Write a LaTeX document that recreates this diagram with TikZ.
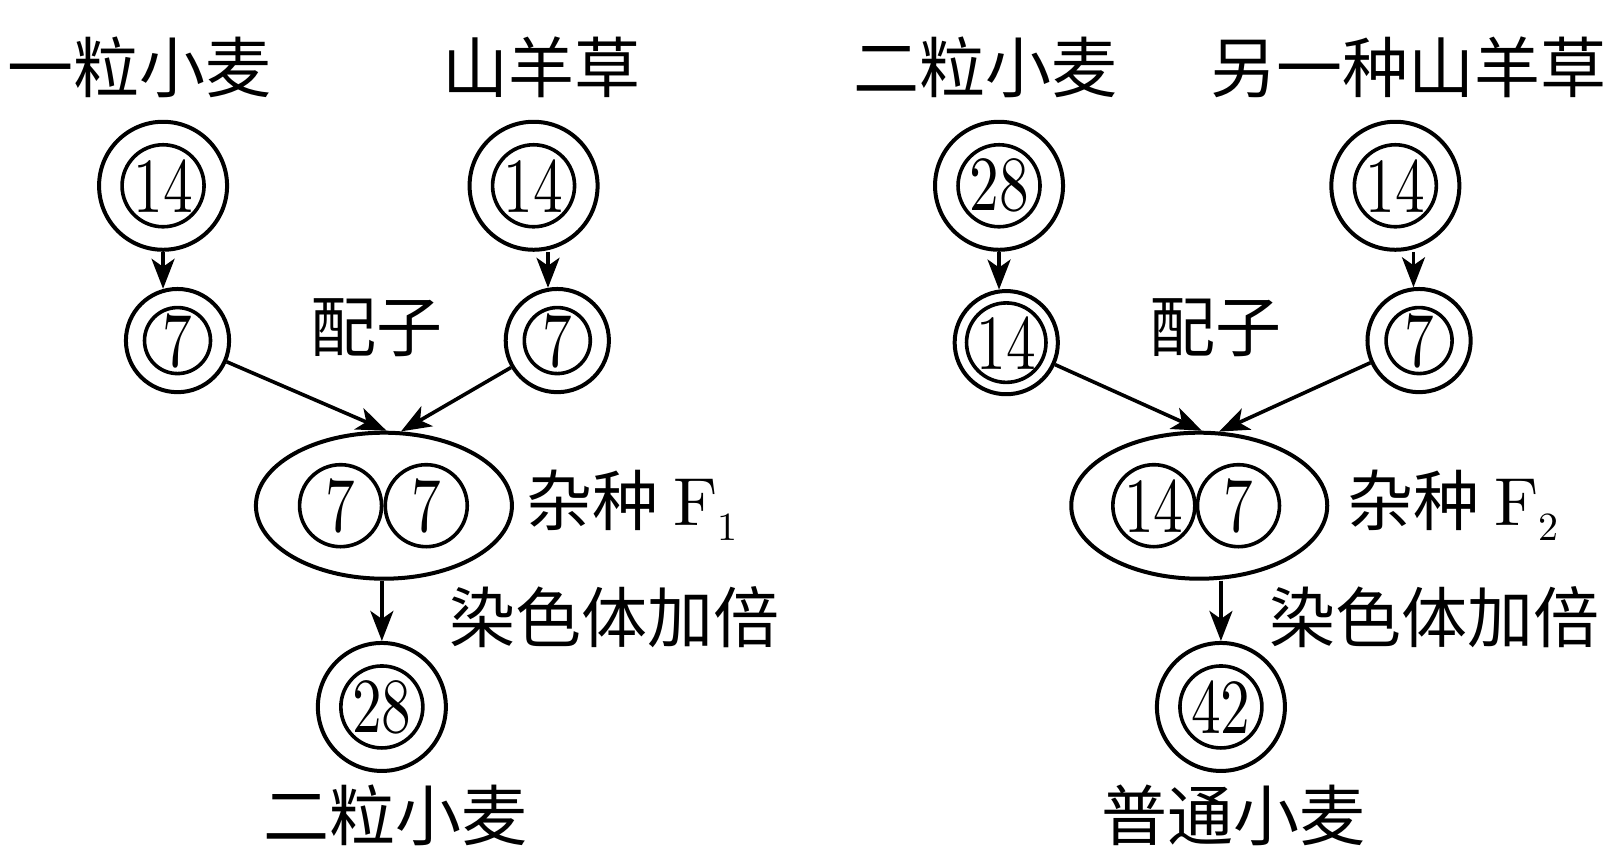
\documentclass[tikz,border=0pt]{standalone}
\usepackage{fontspec}
\usepackage{graphicx}
\newfontfamily\cjk{Noto Sans CJK SC}
\newfontfamily\digitfam{lmroman10-regular.otf}
\usetikzlibrary{arrows.meta,shapes.geometric}
\newcommand\labfont{\fontsize{33}{33}\selectfont\cjk}
\newcommand\digitfont{\fontsize{39}{39}\selectfont\digitfam}
\newcommand\dg[1]{\scalebox{0.76}[1]{#1}}
\newcommand\Fsub[1]{{\digitfam\fontsize{34}{34}\selectfont F\raisebox{-0.22em}{\fontsize{20}{20}\selectfont #1}}}
\begin{document}
\begin{tikzpicture}[x=0.516pt,y=-0.516pt,
  outer/.style={circle,draw,line width=2pt,minimum size=64pt,inner sep=0pt},
  smallc/.style={circle,draw,line width=2pt,minimum size=51.6pt,inner sep=0pt},
  innerc/.style={circle,draw,line width=1.8pt,minimum size=41pt,inner sep=0pt,font=\digitfont},
  innersm/.style={circle,draw,line width=1.8pt,minimum size=33pt,inner sep=0pt,font=\digitfont},
  oval/.style={ellipse,draw,line width=2pt,minimum width=128pt,minimum height=73pt,inner sep=0pt},
  lab/.style={font=\labfont,inner sep=0pt},
  arr/.style={line width=1.8pt,-{Stealth[length=15pt,width=11.5pt,inset=4pt]}}
]
\useasboundingbox (0,0) rectangle (1560,832);

% ---------- left tree ----------
\node[lab] (tA) at (135,65) {一粒小麦};
\node[lab] (tB) at (525,65) {山羊草};
\node[outer] (a1o) at (158,180) {};
\node[innerc] (a1i) at (158,180) {\dg{14}};
\node[outer] (a2o) at (517,180) {};
\node[innerc] (a2i) at (517,180) {\dg{14}};
\node[smallc] (b1o) at (172,330) {};
\node[innersm] (b1i) at (172,330) {\dg{7}};
\node[smallc] (b2o) at (540,330) {};
\node[innersm] (b2i) at (540,330) {\dg{7}};
\node[lab] (pz1) at (365,318) {配子};
\node[oval] (e1) at (372,490) {};
\node[innerc] (e1a) at (330,490) {\dg{7}};
\node[innerc] (e1b) at (413,490) {\dg{7}};
\node[lab,anchor=west] (f1) at (510,490) {杂种\ \Fsub{1}};
\node[lab] (rs1) at (595,598) {染色体加倍};
\node[outer] (c1o) at (370,685) {};
\node[innerc] (c1i) at (370,685) {\dg{28}};
\node[lab] (tC) at (383,790) {二粒小麦};

\draw[arr] (a1o.south) -- (a1o.south |- b1o.105);
\draw[arr] (a2o.south -| b2o.100) -- (b2o.100);
\draw[arr] (b1o) -- (e1.88);
\draw[arr] (b2o) -- (e1.77);
\draw[arr] (e1.south -| c1o.north) -- (c1o.north);

% ---------- right tree ----------
\node[lab] (tD) at (955,65) {二粒小麦};
\node[lab] (tE) at (1365,65) {另一种山羊草};
\node[outer] (d1o) at (968,180) {};
\node[innerc] (d1i) at (968,180) {\dg{28}};
\node[outer] (d2o) at (1352,180) {};
\node[innerc] (d2i) at (1352,180) {\dg{14}};
\node[smallc] (g1o) at (975,332) {};
\node[innersm] (g1i) at (975,332) {\dg{14}};
\node[smallc] (g2o) at (1375,330) {};
\node[innersm] (g2i) at (1375,330) {\dg{7}};
\node[lab] (pz2) at (1178,318) {配子};
\node[oval] (e2) at (1162,490) {};
\node[innerc] (e2a) at (1118,490) {\dg{14}};
\node[innerc] (e2b) at (1200,490) {\dg{7}};
\node[lab,anchor=west] (f2) at (1305,490) {杂种\ \Fsub{2}};
\node[lab] (rs2) at (1390,598) {染色体加倍};
\node[outer] (h1o) at (1183,685) {};
\node[innerc] (h1i) at (1183,685) {\dg{42}};
\node[lab] (tF) at (1195,790) {普通小麦};

\draw[arr] (d1o.south) -- (d1o.south |- g1o.98);
\draw[arr] (d2o.south -| g2o.96) -- (g2o.96);
\draw[arr] (g1o) -- (e2.88);
\draw[arr] (g2o) -- (e2.75);
\draw[arr] (e2.south -| h1o.north) -- (h1o.north);
\end{tikzpicture}
\end{document}
